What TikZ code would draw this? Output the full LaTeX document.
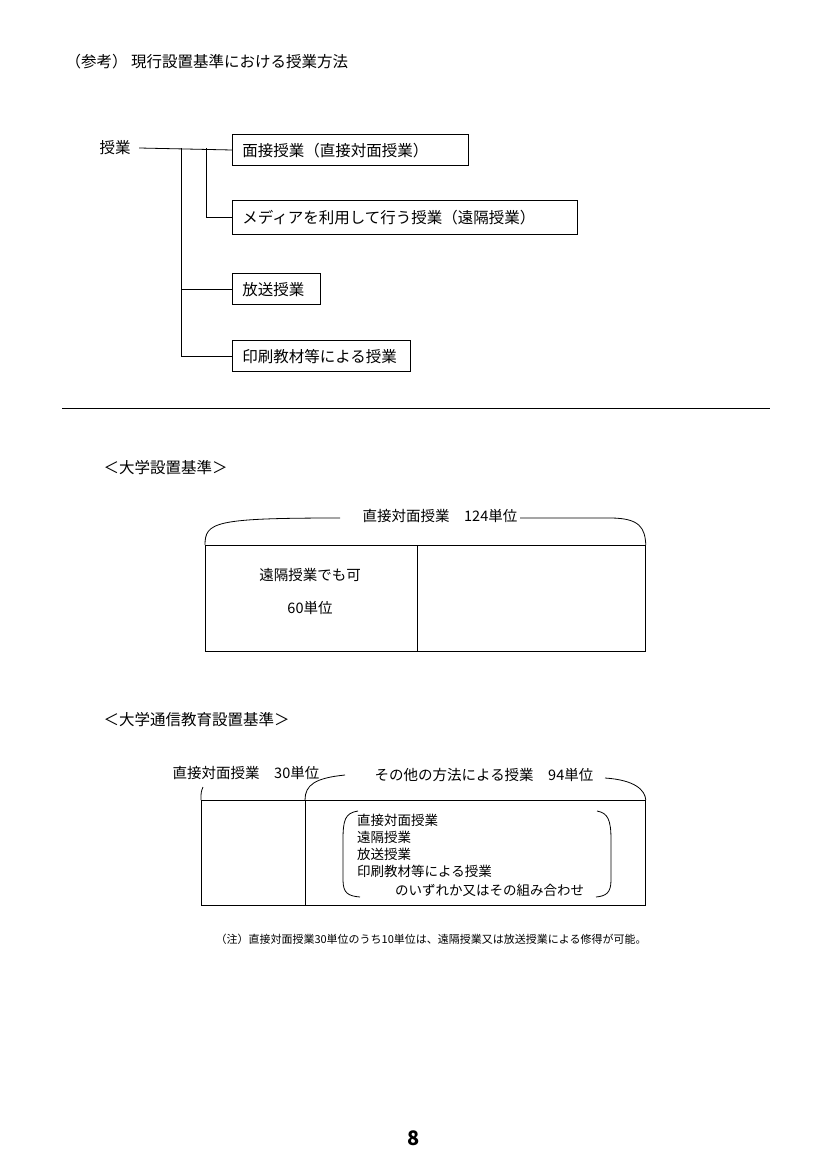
\documentclass[tikz,border=0pt]{standalone}
\usepackage{fontspec}
\setmainfont{Noto Sans CJK JP}
\usetikzlibrary{positioning}
\tikzset{
  kind/.style={draw,thick,minimum height=31pt,inner xsep=10pt,anchor=west,text depth=0pt,font=\fontsize{15.5}{17}\selectfont},
  lbl/.style={font=\fontsize{15.5}{17}\selectfont,anchor=west},
  mid/.style={font=\fontsize{14.5}{16}\selectfont},
  small/.style={font=\fontsize{13.5}{15}\selectfont,anchor=west,inner sep=0pt},
}
\begin{document}
\begin{tikzpicture}[x=1pt,y=-1pt]
    \useasboundingbox (0,0) rectangle (829,1166);
    \node[lbl] (title) at (62,62) {（参考） 現行設置基準における授業方法};
    % tree of lesson kinds
    \node[lbl] (root) at (96,148) {授業};
    \node[kind,minimum width=236pt,text width=216pt] (K1) at (232,150) {面接授業（直接対面授業）};
    \node[kind,minimum height=34pt,minimum width=345pt,text width=325pt] (K2) at (232,217) {メディアを利用して行う授業（遠隔授業）};
    \node[kind,minimum width=88pt,text width=68pt] (K3) at (232,289) {放送授業};
    \node[kind,minimum width=178pt,text width=158pt] (K4) at (232,356) {印刷教材等による授業};
    \coordinate (ja) at (181,148);
    \coordinate (jb) at (206,148);
    \draw[thick] (root.east) ++(5,0) -- (K1.west);
    \draw[thick] (jb) |- (K2.west);
    \draw[thick] (ja) |- (K4.west);
    \draw[thick] (ja |- K3.west) -- (K3.west);
    \draw[thick] (62,408) -- (770,408);
    % university standard
    \node[lbl] (std1) at (100,468) {＜大学設置基準＞};
    \node[draw,very thick,minimum width=212pt,minimum height=106pt,anchor=north west] (A) at (205,545) {};
    \node[draw,thick,minimum width=228pt,minimum height=106pt,anchor=north west] (B) at (417,545) {};
    \node[mid] (a1) at (310,575) {遠隔授業でも可};
    \node[mid] (a2) at (310,608) {60単位};
    \node[mid] (top1) at (440,516) {直接対面授業\quad 124単位};
    \draw[thick] (A.north west) .. controls (205,522) and (215,518) .. (340,518);
    \draw[thick] (520,518) -- (610,518) .. controls (640,518) and (645,528) .. (B.north east);
    % correspondence standard
    \node[lbl] (std2) at (100,720) {＜大学通信教育設置基準＞};
    \node[draw,very thick,minimum width=104pt,minimum height=105pt,anchor=north west] (C) at (201,800) {};
    \node[draw,thick,minimum width=340pt,minimum height=105pt,anchor=north west] (D) at (305,800) {};
    \node[mid] (c0) at (246,773) {直接対面授業\quad 30単位};
    \node[mid] (d0) at (484,775) {その他の方法による授業\quad 94単位};
    \draw[thick] (C.north west) .. controls (201,792) .. (203,787);
    \draw[thick] (D.north west) .. controls (305,785) and (315,778) .. (345,775);
    \draw[thick] (605,778) .. controls (635,780) and (645,790) .. (D.north east);
    \node[small] (m1) at (357,820) {直接対面授業};
    \node[small] (m2) at (357,837) {遠隔授業};
    \node[small] (m3) at (357,854) {放送授業};
    \node[small] (m4) at (357,871) {印刷教材等による授業};
    \node[small] (m5) at (395,890) {のいずれか又はその組み合わせ};
    \draw[thick] (358,811) .. controls (345,813) and (343,820) .. (343,840) -- (343,880) .. controls (343,893) and (348,896) .. (360,897);
    \draw[thick] (597,811) .. controls (608,813) and (611,820) .. (611,840) -- (611,880) .. controls (611,893) and (606,896) .. (596,897);
    \node[font=\fontsize{11}{13}\selectfont,anchor=west] (note) at (212,939) {（注）直接対面授業30単位のうち10単位は、遠隔授業又は放送授業による修得が可能。};
    \node[font=\fontsize{20}{22}\selectfont\bfseries] (page) at (414,1138) {8};
\end{tikzpicture}
\end{document}
